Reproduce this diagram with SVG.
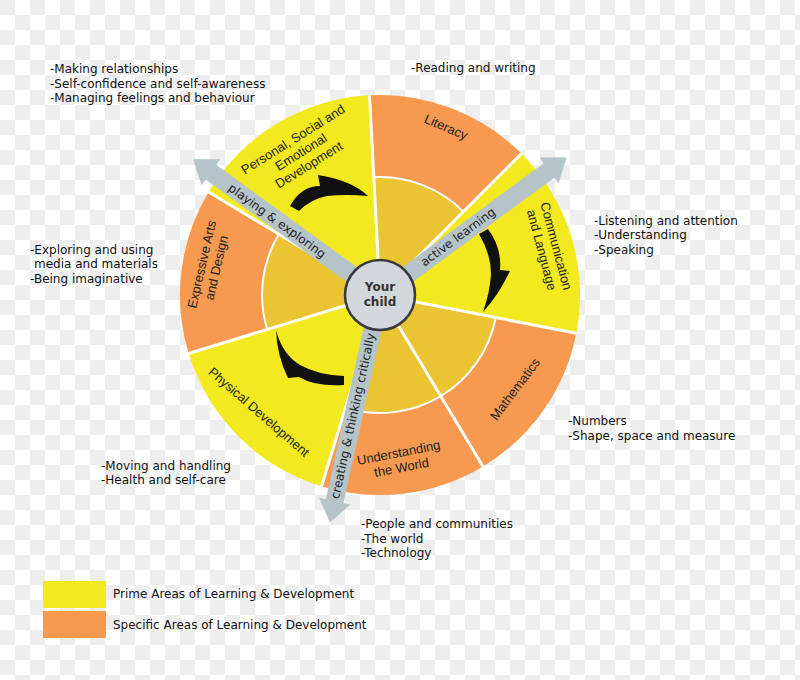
<svg xmlns="http://www.w3.org/2000/svg" width="800" height="680" viewBox="0 0 800 680">
<defs>
<pattern id="chk" width="30" height="30" patternUnits="userSpaceOnUse">
<rect width="30" height="30" fill="#ffffff"/>
<rect width="15" height="15" fill="#eeeeee"/>
<rect x="15" y="15" width="15" height="15" fill="#eeeeee"/>
</pattern>
</defs>
<style>
.prime{fill:#f2ea1e}
.spec{fill:#f79a50}
.inner{fill:#ebc434}
.sep{stroke:#ffffff;stroke-width:3;fill:none}
.arc{stroke:#ffffff;stroke-width:2;fill:none}
.flow{fill:#b5c4c9}
.curl{fill:#111111}
.lbl{font-family:"Liberation Sans",Arial,sans-serif;font-size:13px;fill:#222222;text-anchor:middle}
.atx{font-family:"DejaVu Sans",Verdana,sans-serif;font-size:12px;fill:#222222;text-anchor:middle}
.note{font-family:"DejaVu Sans",Verdana,sans-serif;font-size:12px;fill:#111111}
.hub{fill:#d3d6db;stroke:#3a3a3a;stroke-width:2.5}
.hubt{font-family:"DejaVu Sans",Verdana,sans-serif;font-size:12px;font-weight:bold;fill:#333333;text-anchor:middle}
</style>
<rect width="800" height="680" fill="url(#chk)"/>

<g id="psed">
<path class="prime" d="M380,295 L208.6,192 A200,200 0 0 1 369.5,95.3 Z"/>
<text class="lbl" transform="translate(301,152) rotate(-32)"><tspan x="0" y="-10.5">Personal, Social and</tspan><tspan x="0" y="4.5">Emotional</tspan><tspan x="0" y="19.5">Development</tspan></text>
</g>
<g id="literacy">
<path class="spec" d="M380,295 L369.5,95.3 A200,200 0 0 1 521.4,153.6 Z"/>
<path class="inner" d="M380,295 L373.8,177.2 A118,118 0 0 1 463.4,211.6 Z"/>
<path class="arc" d="M373.8,177.2 A118,118 0 0 1 463.4,211.6"/>
<text class="lbl" transform="translate(446,127) rotate(23)" y="4.5">Literacy</text>
</g>
<g id="communication">
<path class="prime" d="M380,295 L521.4,153.6 A200,200 0 0 1 576.3,333.2 Z"/>
<text class="lbl" transform="translate(549,248) rotate(75)"><tspan x="0" y="-3">Communication</tspan><tspan x="0" y="12">and Language</tspan></text>
</g>
<g id="mathematics">
<path class="spec" d="M380,295 L576.3,333.2 A200,200 0 0 1 483,466.4 Z"/>
<path class="inner" d="M380,295 L495.8,317.5 A118,118 0 0 1 440.8,396.2 Z"/>
<path class="arc" d="M495.8,317.5 A118,118 0 0 1 440.8,396.2"/>
<text class="lbl" transform="translate(515,389) rotate(-53)" y="4.5">Mathematics</text>
</g>
<g id="understanding">
<path class="spec" d="M380,295 L483,466.4 A200,200 0 0 1 321.5,486.3 Z"/>
<path class="inner" d="M380,295 L440.8,396.2 A118,118 0 0 1 345.5,407.8 Z"/>
<path class="arc" d="M440.8,396.2 A118,118 0 0 1 345.5,407.8"/>
<text class="lbl" transform="translate(400,460) rotate(-11)"><tspan x="0" y="-3">Understanding</tspan><tspan x="0" y="12">the World</tspan></text>
</g>
<g id="physical">
<path class="prime" d="M380,295 L321.5,486.3 A200,200 0 0 1 188.7,353.5 Z"/>
<text class="lbl" transform="translate(259,412) rotate(41)" y="4.5">Physical Development</text>
</g>
<g id="expressive">
<path class="spec" d="M380,295 L188.7,353.5 A200,200 0 0 1 208.6,192 Z"/>
<path class="inner" d="M380,295 L267.2,329.5 A118,118 0 0 1 278.8,234.2 Z"/>
<path class="arc" d="M267.2,329.5 A118,118 0 0 1 278.8,234.2"/>
<text class="lbl" transform="translate(209,266) rotate(-77)"><tspan x="0" y="-3">Expressive Arts</tspan><tspan x="0" y="12">and Design</tspan></text>
</g>

<g id="connectors">
<path class="sep" d="M380,295 L208.6,192 M380,295 L369.5,95.3 M380,295 L521.4,153.6 M380,295 L576.3,333.2 M380,295 L483,466.4 M380,295 L321.5,486.3 M380,295 L188.7,353.5"/>
<polygon class="flow" transform="translate(380,295) rotate(216)" points="0,-9 209,-9 209,-16 231,0 209,16 209,9 0,9"/>
<polygon class="flow" transform="translate(380,295) rotate(-36.4)" points="0,-9 210,-9 210,-16 232,0 210,16 210,9 0,9"/>
<polygon class="flow" transform="translate(380,295) rotate(102.4)" points="0,-9 211,-9 211,-16 233,0 211,16 211,9 0,9"/>
<path class="curl" d="M290,206 Q301,186 320,186 L318,175 Q351,180 368,196 Q346,194 327,196 Q311,199 299,211 Z"/>
<path class="curl" d="M479,234 L488,229 Q502,248 500,270 L510,271 Q498,296 483,312 Q490,292 491,274 Q491,254 479,234 Z"/>
<path class="curl" d="M276,330 Q282,354 300,365 Q318,375 344,376 L344,385 Q316,387 299,377 L288,378 Q277,356 276,330 Z"/>
<text class="atx" transform="translate(277,221) rotate(36)" y="4">playing &amp; exploring</text>
<text class="atx" transform="translate(458,237) rotate(-36.4)" y="4">active learning</text>
<text class="atx" transform="translate(353,416) rotate(-77.6)" y="4">creating &amp; thinking critically</text>
</g>

<g id="hub">
<circle class="hub" cx="380" cy="295" r="35"/>
<text class="hubt" x="380" y="291">Your</text>
<text class="hubt" x="380" y="306">child</text>
</g>

<g id="notes">
<text class="note" x="50" y="73">-Making relationships</text>
<text class="note" x="50" y="88">-Self-confidence and self-awareness</text>
<text class="note" x="50" y="102">-Managing feelings and behaviour</text>
<text class="note" x="411" y="72">-Reading and writing</text>
<text class="note" x="594" y="225">-Listening and attention</text>
<text class="note" x="594" y="239">-Understanding</text>
<text class="note" x="594" y="254">-Speaking</text>
<text class="note" x="30" y="254">-Exploring and using</text>
<text class="note" x="34" y="268">media and materials</text>
<text class="note" x="30" y="283">-Being imaginative</text>
<text class="note" x="568" y="425">-Numbers</text>
<text class="note" x="568" y="440">-Shape, space and measure</text>
<text class="note" x="101" y="470">-Moving and handling</text>
<text class="note" x="101" y="484">-Health and self-care</text>
<text class="note" x="361" y="528">-People and communities</text>
<text class="note" x="361" y="543">-The world</text>
<text class="note" x="361" y="557">-Technology</text>
</g>

<g id="legend">
<rect class="prime" x="43" y="581" width="63" height="27"/>
<rect class="spec" x="43" y="611" width="63" height="27"/>
<text class="note" x="113" y="598">Prime Areas of Learning &amp; Development</text>
<text class="note" x="113" y="629">Specific Areas of Learning &amp; Development</text>
</g>
</svg>
